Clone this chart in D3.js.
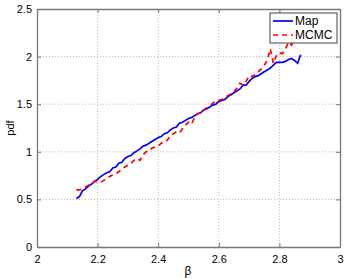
<!DOCTYPE html>
<html>
<head>
<meta charset="utf-8">
<script src="https://cdnjs.cloudflare.com/ajax/libs/d3/7.8.5/d3.min.js"></script>
<style>
  body { margin: 0; background: #fff; }
  svg { font-family: "Liberation Sans", Arial, sans-serif; }
</style>
</head>
<body>
<div id="svg-container"></div>
<script>
// beta grid (shared by both curves)
const betas = [2.13, 2.14, 2.15, 2.16, 2.17, 2.18, 2.19, 2.20, 2.21, 2.22,
  2.23, 2.24, 2.25, 2.26, 2.27, 2.28, 2.29, 2.30, 2.31, 2.32,
  2.33, 2.34, 2.35, 2.36, 2.37, 2.38, 2.39, 2.40, 2.41, 2.42,
  2.43, 2.44, 2.45, 2.46, 2.47, 2.48, 2.49, 2.50, 2.51, 2.52,
  2.53, 2.54, 2.55, 2.56, 2.57, 2.58, 2.59, 2.60, 2.61, 2.62,
  2.63, 2.64, 2.65, 2.66, 2.67, 2.68, 2.69, 2.70, 2.71, 2.72,
  2.73, 2.74, 2.75, 2.76, 2.77, 2.78, 2.79, 2.80, 2.81, 2.82,
  2.83, 2.84, 2.85, 2.86, 2.87];

const mapPdf = [0.51, 0.53, 0.59, 0.61, 0.64, 0.66, 0.69, 0.71, 0.74, 0.76,
  0.78, 0.79, 0.83, 0.84, 0.88, 0.89, 0.93, 0.95, 0.96, 0.99,
  1.01, 1.03, 1.06, 1.07, 1.09, 1.11, 1.13, 1.15, 1.16, 1.19,
  1.20, 1.23, 1.25, 1.26, 1.30, 1.31, 1.33, 1.35, 1.36, 1.38,
  1.40, 1.41, 1.44, 1.45, 1.47, 1.49, 1.50, 1.53, 1.54, 1.55,
  1.58, 1.60, 1.62, 1.64, 1.66, 1.70, 1.70, 1.74, 1.77, 1.79,
  1.80, 1.82, 1.84, 1.86, 1.88, 1.91, 1.94, 1.94, 1.94, 1.95,
  1.97, 1.98, 1.96, 1.93, 2.02];

const mcmcPdf = [0.60, 0.60, 0.61, 0.63, 0.65, 0.67, 0.69, 0.69, 0.68, 0.70,
  0.72, 0.74, 0.76, 0.77, 0.79, 0.82, 0.84, 0.86, 0.88, 0.91,
  0.93, 0.91, 0.97, 1.00, 1.01, 1.04, 1.05, 1.06, 1.09, 1.11,
  1.12, 1.17, 1.19, 1.21, 1.20, 1.24, 1.28, 1.31, 1.29, 1.36,
  1.40, 1.41, 1.44, 1.46, 1.48, 1.51, 1.53, 1.54, 1.55, 1.57,
  1.59, 1.61, 1.63, 1.67, 1.72, 1.70, 1.74, 1.80, 1.79, 1.81,
  1.84, 1.87, 1.91, 1.96, 2.08, 1.93, 2.01, 2.04, 2.03, 2.08,
  2.15, 2.12, 2.18, 2.24, 2.30];

const xTicks = [2, 2.2, 2.4, 2.6, 2.8, 3];
const yTicks = [0, 0.5, 1, 1.5, 2, 2.5];

const width = 346;
const height = 278;
const padding = { top: 9, right: 6, bottom: 31, left: 37 };

const svg = d3.select('div#svg-container')
  .append('svg')
  .attr('width', width)
  .attr('height', height);

const xScale = d3.scaleLinear()
  .domain([2, 3])
  .range([padding.left, width - padding.right]);
const yScale = d3.scaleLinear()
  .domain([0, 2.5])
  .range([height - padding.bottom, padding.top]);

// Grid (dotted).
svg.append('g')
  .selectAll('line')
  .data(xTicks.slice(1, -1))
  .enter()
  .append('line')
  .attr('x1', (d) => xScale(d)).attr('x2', (d) => xScale(d))
  .attr('y1', yScale(0)).attr('y2', yScale(2.5))
  .attr('stroke', '#bbb')
  .attr('stroke-width', 1)
  .attr('stroke-dasharray', '1,2');

svg.append('g')
  .selectAll('line')
  .data(yTicks.slice(1, -1))
  .enter()
  .append('line')
  .attr('x1', xScale(2)).attr('x2', xScale(3))
  .attr('y1', (d) => yScale(d)).attr('y2', (d) => yScale(d))
  .attr('stroke', '#bbb')
  .attr('stroke-width', 1)
  .attr('stroke-dasharray', '1,2');

// Axes.
const fmt = (d) => String(d);
const xAxis = d3.axisBottom(xScale).tickValues(xTicks).tickFormat(fmt).tickSizeInner(-4).tickSizeOuter(0).tickPadding(8);
const yAxis = d3.axisLeft(yScale).tickValues(yTicks).tickFormat(fmt).tickSizeInner(-4).tickSizeOuter(0).tickPadding(5);
const xAxisTop = d3.axisTop(xScale).tickValues(xTicks).tickFormat('').tickSizeInner(-4).tickSizeOuter(0);
const yAxisRight = d3.axisRight(yScale).tickValues(yTicks).tickFormat('').tickSizeInner(-4).tickSizeOuter(0);

const axes = [
  [xAxis, `translate(0, ${yScale(0)})`],
  [yAxis, `translate(${xScale(2)}, 0)`],
  [xAxisTop, `translate(0, ${yScale(2.5)})`],
  [yAxisRight, `translate(${xScale(3)}, 0)`]
];
axes.forEach(([ax, tr]) => {
  const g = svg.append('g').attr('transform', tr).call(ax);
  g.select('.domain').attr('stroke', '#777').attr('stroke-width', 1.3);
  g.selectAll('.tick line').attr('stroke', '#777');
  g.selectAll('.tick text').attr('fill', '#000').style('font-size', '11px')
    .style('font-family', '"Liberation Sans", Arial, sans-serif');
});

// Curves.
const mapData = betas.map((b, i) => ({ x: b, y: mapPdf[i] }));
const mcmcData = betas.map((b, i) => ({ x: b, y: mcmcPdf[i] }));
const line = d3.line().x((d) => xScale(d.x)).y((d) => yScale(d.y));

svg.append('path')
  .datum(mapData)
  .attr('d', line)
  .attr('fill', 'none')
  .attr('stroke', '#0000ff')
  .attr('stroke-width', 1.7);

svg.append('path')
  .datum(mcmcData)
  .attr('d', line)
  .attr('fill', 'none')
  .attr('stroke', '#ff0000')
  .attr('stroke-width', 1.7)
  .attr('stroke-dasharray', '5,4');

// Legend.
const legend = svg.append('g').attr('transform', 'translate(270, 13)');
legend.append('rect')
  .attr('width', 67).attr('height', 30)
  .attr('fill', '#fff')
  .attr('stroke', '#444')
  .attr('stroke-width', 1);
const entries = [
  { name: 'Map', color: '#0000ff', dash: null },
  { name: 'MCMC', color: '#ff0000', dash: '5,4' }
];
entries.forEach((e, i) => {
  const y = 8 + i * 14;
  legend.append('line')
    .attr('x1', 3).attr('x2', 23)
    .attr('y1', y).attr('y2', y)
    .attr('stroke', e.color)
    .attr('stroke-width', 1.7)
    .attr('stroke-dasharray', e.dash);
  legend.append('text')
    .attr('x', 25).attr('y', y + 4)
    .style('font-size', '12px')
    .text(e.name);
});

// Axis labels.
svg.append('text')
  .attr('x', 188)
  .attr('y', 275)
  .attr('text-anchor', 'middle')
  .style('font-size', '12px')
  .text('β');

svg.append('text')
  .attr('transform', 'rotate(-90)')
  .attr('x', -128)
  .attr('y', 14)
  .attr('text-anchor', 'middle')
  .style('font-size', '11px')
  .text('pdf');
</script>
</body>
</html>
